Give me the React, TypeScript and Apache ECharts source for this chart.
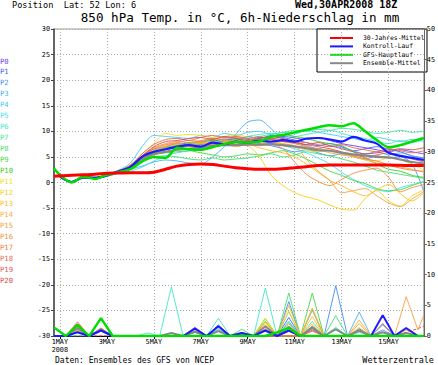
import React, { useEffect, useRef } from "react";
import * as echarts from "echarts";

// hours after 30APR2008 18Z
const tempHours = [6,18,30,42,54,66,78,90,102,114,126,138,150,162,174,186,198,210,222,234,246,258,270,282,294,306,318,330,342,354,366,378];
const mainHours = [0,6,18,30,42,54,66,78,90,102,114,126,138,150,162,174,186,198,210,222,234,246,258,270,282,294,306,318,330,342,354,366,378];
const precipHours = [0,12,24,36,48,60,72,84,96,108,120,132,144,156,168,180,192,204,216,228,240,252,264,276,288,300,312,324,336,348,360,372,378];

const xLabelHours = [6,54,102,150,198,246,294,342];
const xLabels = ["1MAY\n2008","3MAY","5MAY","7MAY","9MAY","11MAY","13MAY","15MAY"];

const memberNames = ["P0","P1","P2","P3","P4","P5","P6","P7","P8","P9","P10","P11","P12","P13","P14","P15","P16","P17","P18","P19","P20"];
const memberColors = ["#6a3cf5","#3f63f5","#3f8ff5","#3fb0f8","#3fcaf8","#3fe2ee","#3fe8c4","#3fe89e","#3fe070","#45d845","#36cc2a","#f0e020","#f8d010","#f8c020","#f8b038","#f8a040","#f09040","#f07c40","#e86850","#e05858","#d84848"];

// 850 hPa temperature of the ensemble members (°C)
const memberTemps = [
  [1.1,0.0,1.0,1.0,1.4,2.2, 3.2,5.2,6.5,7.0,7.6,7.4,7.8,8.2,8.0,8.6, 8.4,8.8,8.5,9.0,8.7,8.4,8.8,8.2,7.6,7.2, 6.8,6.4,6.0,6.4,6.0,5.6],
  [1.3,0.1,1.1,0.8,1.3,2.0, 3.0,4.6,6.0,6.8,7.2,7.8,7.4,7.9,8.5,8.2, 9.0,8.6,9.2,8.8,8.3,7.8,7.2,7.6,7.0,6.2, 6.6,7.0,6.5,6.0,5.2,4.8],
  [1.2,0.0,0.9,0.9,1.2,1.9, 2.7,4.4,5.6,6.4,6.8,7.2,7.6,7.0,7.8,7.5, 8.0,7.6,7.2,6.6,6.0,6.4,5.8,5.2,5.6,5.0, 4.6,5.2,4.8,5.0,3.6,-1.8],
  [1.2,0.0,1.0,0.8,1.3,2.0, 2.6,3.2,4.0,4.4,4.2,3.8,3.6,5.0,7.0,9.5, 11.8,12.2,10.5,8.4,7.8,7.2,6.6,7.2,6.8,6.2, 5.6,6.0,5.4,5.8,5.2,4.6],
  [1.3,0.1,1.2,1.0,1.5,2.4, 3.8,7.0,9.2,9.0,8.8,8.6,9.2,8.8,9.6,9.2, 9.8,10.0,9.4,9.8,9.5,10.2,9.8,9.4,9.0,8.6, 8.2,8.8,8.4,8.0,8.4,8.0],
  [1.2,0.0,0.9,0.8,1.2,1.8, 2.2,3.0,4.2,5.2,5.8,6.2,6.6,7.0,7.4,7.2, 7.8,8.2,7.6,7.2,6.6,5.8,4.8,3.6,2.0,0.6, -0.6,-1.4,-1.8,-1.0,-0.4,0.2],
  [1.2,0.0,1.0,0.9,1.3,2.1, 3.0,4.8,6.2,7.0,7.2,7.6,8.0,8.4,8.8,8.6, 9.0,9.4,9.6,9.2,9.0,9.4,9.8,10.2,9.6,9.0, 8.6,8.0,7.6,8.2,7.8,8.4],
  [1.1,0.0,1.0,0.9,1.3,2.0, 2.8,4.6,5.8,6.6,7.0,7.4,7.2,7.8,8.2,8.0, 8.6,9.0,9.4,9.8,10.2,10.0,10.4,10.2,10.6,10.4, 10.0,9.6,9.8,10.2,9.8,10.0],
  [1.2,0.0,1.0,0.8,1.2,1.9, 2.6,4.0,5.0,5.2,5.0,4.6,4.4,4.8,4.4,4.6, 4.8,5.2,5.6,5.0,5.4,6.0,5.6,5.2,4.6,4.0, 3.2,2.4,2.0,1.6,1.2,0.8],
  [1.3,0.1,1.1,0.9,1.3,2.0, 2.9,4.5,5.4,5.8,6.0,6.2,5.8,5.4,5.0,5.2, 5.6,5.4,5.8,6.2,5.6,4.6,3.4,2.2,1.4,0.4, -0.2,-1.2,-1.6,-1.4,-0.6,0.2],
  [1.2,0.0,1.0,0.9,1.4,2.1, 3.2,5.0,6.2,6.8,7.2,7.6,7.8,8.2,7.8,8.4, 8.0,8.6,9.0,9.4,9.0,8.6,8.0,7.6,7.2,6.0, 4.8,3.6,2.6,2.2,1.4,1.0],
  [1.3,0.1,1.2,1.0,1.5,2.3, 3.4,5.6,7.6,9.6,9.2,9.4,9.2,8.8,9.0,9.4, 8.8,8.2,8.0,7.6,7.0,6.4,6.0,6.4,5.8,5.0, 4.6,4.2,4.8,4.4,3.6,2.4],
  [1.2,0.0,1.0,0.9,1.3,2.1, 3.0,4.8,6.0,6.6,7.0,7.4,7.6,7.2,7.8,7.4, 7.2,5.0,1.4,-0.6,-2.0,-2.8,-3.4,-4.4,-5.2,-5.4, -3.2,-1.6,-3.6,-4.6,-2.6,-1.5],
  [1.3,0.1,1.1,0.9,1.4,2.2, 3.2,5.0,6.4,7.2,7.6,7.2,7.8,8.0,7.6,7.0, 7.4,6.8,6.2,5.8,5.0,3.6,2.0,0.4,-0.6,-1.8, -2.6,-1.4,-0.4,-2.2,-3.6,-2.0],
  [1.3,0.1,1.1,0.9,1.4,2.1, 3.0,4.8,6.0,6.8,7.0,7.4,7.8,7.4,8.0,8.2, 7.8,8.4,8.0,7.6,7.2,6.8,6.4,5.8,5.4,5.0, 4.4,3.8,3.4,3.0,2.6,2.0],
  [1.2,0.0,1.0,0.9,1.3,2.0, 3.0,4.8,6.2,7.0,7.4,7.0,7.6,8.0,7.6,7.8, 7.4,7.8,7.6,7.4,7.2,4.5,2.2,0.4,-2.0,-1.6, -1.2,-2.6,-4.0,-4.7,-3.2,-1.8],
  [1.3,0.1,1.1,1.0,1.4,2.2, 3.2,5.2,6.8,7.6,8.0,7.8,8.2,8.6,8.2,8.0, 7.6,7.2,7.4,6.6,4.0,1.6,0.2,-0.6,0.6,1.8, 2.4,2.8,1.0,-1.8,-1.0,-0.4],
  [1.2,0.0,1.0,0.9,1.3,2.0, 3.1,5.0,6.6,7.4,7.8,8.2,8.0,8.6,8.4,8.8, 8.6,9.0,8.4,8.0,7.6,7.0,6.6,6.2,5.8,5.2, 4.6,4.2,3.4,2.8,2.4,2.2],
  [1.3,0.1,1.1,1.0,1.4,2.2, 3.4,5.6,7.4,8.4,8.6,8.2,8.8,9.2,8.8,9.0, 8.6,8.2,8.6,8.4,8.0,7.8,7.4,7.0,7.4,6.8, 6.4,6.0,6.6,6.2,5.8,6.2],
  [1.2,0.0,1.0,0.8,1.3,2.0, 3.0,4.6,5.8,6.4,7.0,7.2,7.0,7.6,7.4,7.8, 7.6,8.0,8.4,8.0,7.8,7.4,7.0,6.6,6.0,5.4, 5.0,5.4,5.8,5.2,4.6,4.0],
  [1.3,0.1,1.1,0.9,1.4,2.2, 3.3,5.2,7.0,8.0,8.2,8.6,8.8,8.4,9.0,8.6, 8.2,8.6,9.0,8.6,8.0,7.4,7.8,7.2,6.6,6.0, 5.6,5.8,6.2,6.6,6.4,6.8],
];

// 6h precipitation of the ensemble members (mm)
const memberPrecip = [
  [0,0,1.0,0,1.1,0,0,0,0,0, 0,0,1.4,0,1.8,0,0,0,1.0,0, 0.8,0,0,0,0,0,0,0,2.0,0, 0,0,0],
  [0,0,1.2,0,0.8,0,0,0,0,0, 0,0,0.8,0,0,0,0,0,1.6,0, 3.0,0,1.2,0,0,0,1.2,0,0,0, 0,0,0],
  [0,0,0.6,0,1.2,0,0,0,0,0, 0,0,0,0,0,0,0,0,0,0, 5.6,0,1.6,0,8.2,0,1.0,0,1.0,0, 0,0,0],
  [0,0,1.1,0,0.9,0,0,0,0,0, 0,0,0,0,1.0,0,0,0,0,0, 0,0,4.2,0,0,0,3.9,0,1.8,0, 0,0,0],
  [0,0,0.9,0,1.0,0,0,0,0,0, 0,0,0,0,0,0,0.4,0,0,0, 2.4,0,0,0,1.2,0,0,0,0,0, 0,0,0],
  [0,0,0.8,0,1.3,0,0,0,0,0, 0,0,0.6,0,0,0,0,0,0,0, 4.0,0,1.0,0,0,0,0.6,0,0,0, 0,0,0],
  [0,0,0,0,0.9,0,0,0,0.5,0, 8.0,0,0,0,2.9,0,0,0,7.8,0, 0,0,2.4,0,0,0,0,0,0,0, 0,0,0],
  [0,0,0.7,0,1.0,0,0,0,0,0, 0,0,0,0,1.2,0,0,0,0,0, 2.2,0,0,0,1.4,0,0,0,0,0, 0,0,0],
  [0,0,1.4,0,1.1,0,0,0,0,0, 0,0,0,0,0,0,1.1,0,0,0, 7.0,0,0,0,3.3,0,0,0,0,0, 0,0,0],
  [0,0,1.2,0,1.2,0,0,0,0,0, 0,0,0,0,0,0,0,0,2.9,0, 0,0,7.0,0,0,0,0,0,0,0, 0,0,0],
  [0,0,1.6,0,1.0,0,0,0,0,0, 0,0,0,0,0.8,0,0,0,2.4,0, 0,0,0,0,1.0,0,0,0,0,0, 0,0,0],
  [0,0,1.3,0,1.2,0,0,0,0,0, 0,0,0,0,0,0,0,0,2.9,0, 0,0,4.5,0,0,0,1.4,0,0,0, 0,0,0],
  [0,0,1.0,0,0.8,0,0,0,0,0, 0,0,0,0,0,0,0,0,2.0,0, 4.0,0,2.0,0,0,0,0,0,0,0, 0,0,0],
  [0,0,0.9,0,0.9,0,0,0,0,0, 0,0,0,0,0,0,0,0,0,0, 0,0,3.2,0,0,0,1.0,0,0,0, 0,0,0],
  [0,0,1.5,0,1.3,0,0,0,0,0, 0,0,0,0,0,0,0,0,2.3,0, 5.0,0,0,0,0,0,2.6,0,0,0, 0,0,0],
  [0,0,1.0,0,1.1,0,0,0,0,0, 0,0,0,0,0,0,0,0,1.6,0, 0,0,4.5,0,0,0,2.0,0,0,0, 6.4,1.0,3.4],
  [0,0,1.6,0,0.9,0,0,0,0,0, 0,0,0.6,0,0,0,0,0,1.2,0, 2.0,0,0,0,0,0,0,0,1.9,0, 1.0,0,0],
  [0,0,1.8,0,1.2,0,0,0,0,0, 0,0,0,0,0,0,0,0,0,0, 0,0,1.6,0,0,0,0.8,0,0,0, 0,0,0],
  [0,0,2.3,0,1.0,0,0,0,0,0, 0,0,0,0,0,0,0,0,0,0, 1.2,0,1.0,0,0,0,0,0,0,0, 0,0,0],
  [0,0,2.0,0,1.2,0,0,0,0,0, 0,0,0,0,0,0,0.6,0,0,0, 0,0,0.8,0,0,0,0,0,0,0, 0,0,0],
  [0,0,1.7,0,0.9,0,0,0,0,0, 0,0,0,0,0,0,0,0,0,0, 0.8,0,0,0,0,0,0,0,0.6,0, 0,0,0],
];

// 30-year climate mean (°C) and its precipitation (mm)
const climateTemp = [1.2, 1.3,1.4,1.5,1.6,1.8,1.85, 1.9,1.9,2.0,2.6,3.2,3.5,3.6,3.5,3.2,2.9, 2.7,2.6,2.6,2.7,2.9,3.1,3.3,3.4,3.4,3.4, 3.4,3.4,3.4,3.35,3.3,3.3];
const climatePrecip = [0,0,0,0,0,0,0,0,0,0, 0,0,0,0,0,0,0,0,0,0, 0,0,0,0,0,0,0,0,0,0.1, 0.6,1.2,1.6];
// GFS main run (°C, mm)
const gfsTemp = [2.8, 1.5,0.0,1.1,0.7,1.5,2.0, 2.6,4.1,5.0,4.8,6.8,6.5,6.4,6.9,7.5,7.9, 7.8,8.0,8.9,9.3,9.8,10.3,10.8,11.2,11.0,11.6, 10.0,8.3,6.9,7.3,8.0,8.7];
const gfsPrecip = [1.4,0,1.8,0,2.9,0,0,0,0,0, 0,0,0,0,0,0,0,0,0,0.6, 1.3,0,0,0,0,0,0,0,0,0, 0,0,0];
// control run (°C, mm)
const controlTemp = [1.2,0.1,1.0,0.9,1.4,2.2, 3.0,5.0,6.0,6.5,7.0,7.3,7.0,7.8,7.5,8.0, 7.8,8.2,8.0,8.3,8.0,8.6,8.7,8.4,8.0,8.9, 8.2,7.6,5.8,5.2,4.8,4.4];
const controlPrecip = [0,0,0.6,0,0.9,0,0,0,0,0, 0,0,1.2,0,1.6,0,0.5,0,0.9,0, 0.9,0,0,0,0,0,0,0,3.4,0, 1.3,0,0];
// ensemble mean (°C, mm)
const meanTemp = [1.2,0.1,0.9,0.9,1.4,2.1, 3.0,4.5,5.6,6.0,6.4,6.6,6.8,7.2,7.3,7.3, 7.4,7.4,7.5,7.3,7.0,6.7,6.3,6.2,5.8,5.5, 5.3,5.0,4.9,4.5,4.0,3.7];
const meanPrecip = [0,0,1.3,0,1.0,0,0,0,0,0, 0.5,0,0.7,0,0.8,0,0.4,0,1.6,0, 1.5,0,1.4,0,1.1,0,0.9,0,0.6,0, 0.5,0,0];

const legendNames = ["30-Jahres-Mittel", "Kontroll-Lauf", "GFS-Hauptlauf", "Ensemble-Mittel"];
const legendColors = ["#ff0000", "#1a1aff", "#00dd00", "#888888"];

const FONT = "'DejaVu Sans Mono', monospace";

function line(name: string, hours: number[], values: number[], yAxisIndex: number, color: string, width: number, extra: any = {}) {
  return {
    name,
    type: "line",
    xAxisIndex: 0,
    yAxisIndex,
    data: hours.map((h, k) => [h, values[k]]),
    showSymbol: false,
    symbol: "none",
    silent: true,
    lineStyle: { color, width },
    itemStyle: { color },
    emphasis: { disabled: true },
    ...extra,
  };
}

export default function App() {
  const ref = useRef<HTMLDivElement>(null);
  useEffect(() => {
    if (!ref.current) return;
    const chart = echarts.init(ref.current, undefined, { renderer: "svg" });
    const series: any[] = [];
    series.push(line("climP", precipHours, climatePrecip, 1, "#e03030", 0.9, { lineStyle: { color: "#e03030", width: 0.9, type: [3, 2] } }));
    memberPrecip.forEach((p, i) => series.push(line(memberNames[i] + "p", precipHours, p, 1, memberColors[i], 0.9)));
    series.push(line("meanP", precipHours, meanPrecip, 1, legendColors[3], 2));
    series.push(line("ctrlP", precipHours, controlPrecip, 1, legendColors[1], 2));
    series.push(line("gfsP", precipHours, gfsPrecip, 1, legendColors[2], 2.4));
    memberTemps.forEach((t, i) => series.push(line(memberNames[i], tempHours, t, 0, memberColors[i], 0.9, { smooth: 0.3 })));
    series.push(line(legendNames[3], tempHours, meanTemp, 0, legendColors[3], 2.2, { smooth: 0.3 }));
    series.push(line(legendNames[1], tempHours, controlTemp, 0, legendColors[1], 2.2, { smooth: 0.3 }));
    series.push(line(legendNames[2], mainHours, gfsTemp, 0, legendColors[2], 2.5, { smooth: 0.3 }));
    series.push(line(legendNames[0], mainHours, climateTemp, 0, legendColors[0], 3, { smooth: 0.3 }));

    const graphic: any[] = [
      { type: "text", x: 12, y: 4.5, style: { text: "Position  Lat: 52 Lon: 6", fontSize: 8.6, fontFamily: FONT, fill: "#000", textVerticalAlign: "middle" } },
      { type: "text", x: 295, y: 4.5, style: { text: "Wed,30APR2008 18Z", fontSize: 10, fontWeight: "bold", fontFamily: FONT, fill: "#000", textVerticalAlign: "middle" } },
      { type: "text", x: 240, y: 17.5, style: { text: "850 hPa Temp. in °C, 6h-Niederschlag in mm", fontSize: 12.6, fontFamily: FONT, fill: "#000", textAlign: "center", textVerticalAlign: "middle" } },
      { type: "text", x: 55, y: 360, style: { text: "Daten: Ensembles des GFS von NCEP", fontSize: 8, fontFamily: FONT, fill: "#000", textVerticalAlign: "middle" } },
      { type: "text", x: 434, y: 360, style: { text: "Wetterzentrale", fontSize: 8.5, fontFamily: FONT, fill: "#000", textAlign: "right", textVerticalAlign: "middle" } },
    ];
    memberNames.forEach((n, i) => {
      graphic.push({ type: "text", x: 0, y: 61 + i * 10.95, style: { text: n, fontSize: 7.2, fontFamily: FONT, fill: memberColors[i], textVerticalAlign: "middle" } });
    });
    const legendChildren: any[] = [
      { type: "rect", shape: { x: 317, y: 29, width: 110, height: 43 }, style: { fill: "#fff", stroke: "#000", lineWidth: 1 } },
    ];
    legendNames.forEach((n, i) => {
      const y = 38 + i * 8.4;
      legendChildren.push({ type: "line", shape: { x1: 330, y1: y, x2: 353, y2: y }, style: { stroke: legendColors[i], lineWidth: 2 } });
      legendChildren.push({ type: "text", x: 363, y, style: { text: n, fontSize: 6.4, fontFamily: FONT, fill: "#000", textVerticalAlign: "middle" } });
    });
    graphic.push({ type: "group", z: 100, children: legendChildren });

    chart.setOption({
      animation: false,
      backgroundColor: "#fff",
      grid: { left: 54, right: 13, top: 29, bottom: 29, show: true, borderColor: "#999", borderWidth: 1, backgroundColor: "transparent" },
      xAxis: {
        type: "value",
        min: 0,
        max: 378,
        axisLine: { show: true, onZero: false, lineStyle: { color: "#000", width: 1 } },
        axisTick: { show: true, customValues: xLabelHours, length: 3, lineStyle: { color: "#000" } },
        axisLabel: {
          customValues: xLabelHours,
          formatter: (v: number) => { const k = xLabelHours.indexOf(v); return k >= 0 ? xLabels[k] : ""; },
          fontSize: 6.8,
          fontFamily: FONT,
          color: "#000",
          margin: 2,
          lineHeight: 8,
        },
        splitLine: { show: true, lineStyle: { color: "#aaa", width: 1, type: [1, 2] } },
      },
      yAxis: [
        {
          type: "value", min: -30, max: 30, interval: 5, position: "left",
          axisLine: { show: true, onZero: false, lineStyle: { color: "#444", width: 1.5 } },
          axisTick: { show: true, length: 3, lineStyle: { color: "#444" } },
          axisLabel: { fontSize: 6.8, fontFamily: FONT, color: "#000", margin: 4 },
          splitLine: { show: true, lineStyle: { color: "#aaa", width: 1, type: [1, 2] } },
        },
        {
          type: "value", min: 0, max: 50, interval: 5, position: "right",
          axisLine: { show: true, onZero: false, lineStyle: { color: "#666", width: 1 } },
          axisTick: { show: true, length: 3, lineStyle: { color: "#666" } },
          axisLabel: { fontSize: 6.8, fontFamily: FONT, color: "#000", margin: 3 },
          splitLine: { show: false },
        },
      ],
      graphic,
      series,
    });
    return () => chart.dispose();
  }, []);
  return <div ref={ref} style={{ width: 438, height: 365, position: "absolute", left: 0, top: 0 }} />;
}
